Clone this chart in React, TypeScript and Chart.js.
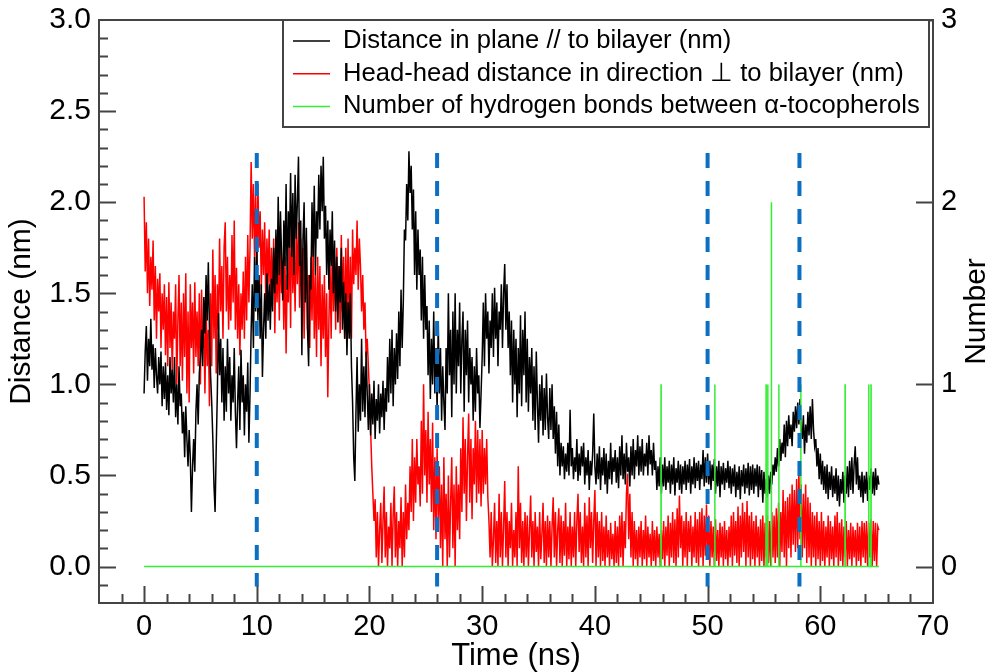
import { useEffect, useRef } from "react";
import { Chart, registerables } from "chart.js";

Chart.register(...registerables);

// ---- data ----
const TIME_STEP_NS = 0.1; // sampling interval of the two distance series

const inPlaneDistance = [
  0.95, 1.18, 1.32, 1.02, 1.25, 1.10, 1.36, 1.08, 1.22, 0.98, 1.20, 1.05, 0.95, 1.15, 1.00, 1.18, 0.88, 1.10, 0.92, 1.12,
  0.86, 1.05, 0.83, 1.15, 0.95, 1.08, 0.90, 1.15, 0.82, 1.00, 0.78, 1.10, 0.88, 0.95, 0.73, 0.85, 0.60, 0.88, 0.70, 0.55,
  0.75, 0.60, 0.30, 0.55, 0.70, 0.52, 0.85, 1.00, 0.78, 1.06, 1.15, 1.30, 1.10, 1.48, 1.28, 1.60, 1.35, 1.67, 1.30, 1.05,
  0.90, 0.70, 0.45, 0.30, 0.65, 0.95, 1.39, 1.05, 1.25, 0.90, 1.20, 0.80, 1.10, 0.85, 1.25, 0.95, 1.15, 0.80, 1.05, 0.90,
  1.20, 0.85, 0.65, 0.90, 1.10, 0.75, 1.19, 0.90, 1.05, 0.72, 1.00, 0.85, 1.12, 0.68, 0.95, 1.30, 1.55, 1.20, 1.70, 1.40,
  1.77, 1.35, 1.60, 1.25, 1.55, 1.04, 1.30, 1.50, 1.25, 1.61, 1.35, 1.55, 1.30, 1.58, 1.40, 1.75, 1.50, 1.85, 1.55, 2.03,
  1.60, 1.95, 1.70, 1.46, 1.90, 1.65, 2.10, 1.52, 1.95, 1.75, 2.16, 1.70, 2.05, 1.60, 2.15, 1.80, 2.00, 2.25, 1.65, 1.90,
  1.16, 1.80, 2.00, 1.45, 1.86, 1.30, 1.10, 1.60, 1.52, 2.00, 1.70, 2.09, 1.60, 1.95, 1.80, 2.15, 1.85, 2.20, 1.95, 2.25,
  1.80, 1.98, 1.60, 1.90, 1.52, 1.85, 1.65, 1.95, 1.50, 1.79, 1.40, 1.70, 1.34, 1.65, 1.45, 1.75, 1.30, 1.56, 1.25, 1.50,
  1.16, 1.45, 1.25, 1.50, 1.10, 0.90, 0.60, 0.47, 0.85, 1.15, 0.74, 1.00, 0.80, 1.25, 0.85, 1.10, 0.82, 1.18, 0.95, 0.75,
  1.00, 0.72, 0.95, 0.78, 1.02, 0.70, 0.92, 0.80, 1.00, 0.73, 0.95, 0.82, 1.02, 0.75, 0.98, 0.85, 1.15, 0.90, 1.25, 0.95,
  1.30, 0.88, 1.20, 1.00, 1.28, 1.03, 1.40, 1.10, 1.52, 1.20, 1.45, 1.85, 1.79, 2.10, 1.90, 2.28, 2.05, 2.20, 1.85, 2.07,
  1.60, 1.95, 1.52, 1.85, 1.60, 1.74, 1.35, 1.70, 1.25, 1.60, 1.30, 1.43, 1.05, 1.35, 0.92, 1.25, 1.00, 1.40, 0.95, 1.20,
  0.85, 1.34, 0.95, 1.20, 0.80, 1.10, 0.90, 0.75, 1.20, 0.95, 1.50, 1.05, 1.30, 0.82, 1.40, 1.00, 1.50, 0.95, 1.30, 1.10,
  1.45, 0.95, 1.25, 1.40, 0.85, 1.30, 1.05, 1.35, 0.90, 1.20, 1.00, 1.15, 0.80, 1.10, 0.85, 1.20, 0.95, 1.05, 0.76, 0.95,
  1.15, 1.45, 1.10, 1.50, 1.25, 1.40, 1.06, 1.35, 1.20, 1.50, 1.15, 1.53, 1.25, 1.45, 1.10, 1.40, 1.30, 1.55, 1.20, 1.50,
  1.66, 1.30, 1.55, 1.20, 1.40, 1.05, 1.35, 0.90, 1.30, 1.00, 1.25, 0.82, 1.20, 0.95, 1.38, 0.88, 1.30, 1.05, 1.40, 0.90,
  1.25, 0.85, 1.15, 0.95, 1.20, 0.80, 1.10, 0.75, 1.18, 0.90, 0.68, 1.00, 0.80, 1.05, 0.72, 0.98, 0.75, 1.06, 0.82, 0.70,
  0.98, 0.75, 1.00, 0.70, 0.88, 0.62, 0.85, 0.55, 0.78, 0.50, 0.68, 0.55, 0.66, 0.48, 0.62, 0.52, 0.68, 0.50, 0.86, 0.55,
  0.65, 0.48, 0.60, 0.52, 0.70, 0.47, 0.62, 0.50, 0.66, 0.55, 0.68, 0.45, 0.60, 0.50, 0.64, 0.42, 0.58, 0.50, 0.62, 0.84,
  0.55, 0.45, 0.62, 0.48, 0.66, 0.42, 0.60, 0.50, 0.65, 0.45, 0.62, 0.40, 0.58, 0.48, 0.68, 0.45, 0.60, 0.52, 0.64, 0.46,
  0.60, 0.43, 0.66, 0.50, 0.72, 0.48, 0.62, 0.45, 0.68, 0.52, 0.60, 0.44, 0.66, 0.50, 0.70, 0.48, 0.64, 0.55, 0.72, 0.50,
  0.66, 0.52, 0.70, 0.50, 0.62, 0.55, 0.68, 0.50, 0.72, 0.56, 0.64, 0.50, 0.68, 0.53, 0.58, 0.42, 0.55, 0.44, 0.60, 0.40,
  0.56, 0.44, 0.60, 0.42, 0.55, 0.46, 0.58, 0.40, 0.56, 0.45, 0.60, 0.39, 0.54, 0.46, 0.58, 0.42, 0.56, 0.40, 0.55, 0.45,
  0.58, 0.42, 0.56, 0.46, 0.59, 0.40, 0.55, 0.45, 0.60, 0.43, 0.57, 0.47, 0.58, 0.42, 0.56, 0.48, 0.64, 0.44, 0.60, 0.46,
  0.62, 0.45, 0.58, 0.42, 0.56, 0.47, 0.59, 0.40, 0.55, 0.44, 0.58, 0.38, 0.55, 0.45, 0.57, 0.42, 0.54, 0.46, 0.58, 0.43,
  0.55, 0.40, 0.54, 0.44, 0.56, 0.38, 0.52, 0.42, 0.55, 0.37, 0.53, 0.44, 0.56, 0.40, 0.54, 0.43, 0.57, 0.39, 0.55, 0.42,
  0.56, 0.40, 0.54, 0.44, 0.56, 0.38, 0.55, 0.42, 0.53, 0.35, 0.52, 0.40, 0.48, 0.38, 0.50, 0.40, 0.52, 0.45, 0.56, 0.50,
  0.60, 0.52, 0.65, 0.55, 0.70, 0.58, 0.68, 0.62, 0.78, 0.60, 0.80, 0.66, 0.83, 0.70, 0.78, 0.66, 0.85, 0.74, 0.88, 0.76,
  0.90, 0.78, 0.92, 0.75, 0.70, 0.83, 0.62, 0.78, 0.68, 0.85, 0.72, 0.88, 0.70, 0.92, 0.75, 0.66, 0.70, 0.55, 0.65, 0.48,
  0.62, 0.45, 0.58, 0.42, 0.55, 0.40, 0.56, 0.37, 0.52, 0.42, 0.55, 0.38, 0.50, 0.40, 0.54, 0.36, 0.50, 0.33, 0.48, 0.40,
  0.52, 0.35, 0.50, 0.40, 0.55, 0.38, 0.58, 0.42, 0.60, 0.40, 0.56, 0.66, 0.45, 0.60, 0.42, 0.50, 0.38, 0.52, 0.35, 0.50,
  0.40, 0.52, 0.36, 0.50, 0.42, 0.54, 0.40, 0.52, 0.39, 0.54, 0.42, 0.50, 0.45,
];

const headHeadDistance = [
  2.03, 1.62, 1.89, 1.50, 1.80, 1.43, 1.70, 1.52, 1.79, 1.35, 1.65, 1.25, 1.58, 1.40, 1.61, 1.20, 1.50, 1.30, 1.55, 1.16,
  1.48, 1.10, 1.56, 1.20, 1.45, 1.06, 1.40, 1.25, 1.55, 1.00, 1.35, 1.60, 1.10, 1.45, 1.02, 1.50, 1.15, 1.61, 0.95, 1.40,
  0.90, 1.55, 1.20, 1.45, 1.06, 1.56, 1.15, 1.40, 1.10, 1.50, 1.00, 1.52, 1.20, 1.35, 0.95, 1.45, 1.10, 1.30, 0.88, 1.50,
  1.10, 1.74, 1.25, 1.60, 1.06, 1.55, 1.30, 1.80, 1.40, 1.65, 1.25, 1.75, 1.89, 1.40, 1.70, 1.30, 1.60, 1.35, 1.82, 1.45,
  1.90, 1.30, 1.64, 1.25, 1.55, 1.16, 1.50, 1.30, 1.62, 1.25, 1.70, 1.35, 1.82, 1.45, 1.75, 2.22, 1.80, 2.10, 1.70, 2.05,
  1.60, 2.10, 1.75, 1.95, 1.52, 1.85, 1.60, 1.89, 1.45, 1.80, 1.55, 1.85, 1.43, 1.75, 1.50, 1.80, 1.28, 1.70, 1.45, 1.75,
  1.35, 1.80, 1.50, 1.65, 1.30, 1.70, 1.17, 1.60, 1.45, 1.85, 1.31, 1.98, 1.50, 1.75, 1.40, 1.85, 1.55, 1.89, 1.42, 1.80,
  1.40, 1.75, 1.25, 1.65, 1.79, 1.30, 1.60, 1.20, 1.70, 1.35, 1.76, 1.25, 1.60, 1.15, 1.70, 1.30, 1.65, 1.10, 1.55, 1.25,
  1.60, 1.15, 1.50, 0.93, 1.35, 1.65, 1.25, 1.79, 1.40, 1.70, 1.30, 1.75, 1.45, 1.65, 1.28, 1.82, 1.40, 1.70, 1.25, 1.75,
  1.35, 1.80, 1.30, 1.70, 1.25, 1.85, 1.55, 1.75, 1.60, 1.90, 1.52, 1.80, 1.65, 1.40, 1.60, 1.30, 1.45, 1.15, 1.25, 1.10,
  0.95, 0.75, 0.55, 0.40, 0.25, 0.37, 0.05, 0.30, 0.00, 0.20, 0.35, 0.02, 0.25, 0.44, 0.05, 0.30, 0.00, 0.22, 0.10, 0.35,
  0.00, 0.28, 0.44, 0.05, 0.30, 0.00, 0.25, 0.10, 0.38, 0.00, 0.30, 0.05, 0.45, 0.15, 0.35, 0.20, 0.55, 0.30, 0.70, 0.25,
  0.60, 0.35, 0.70, 0.45, 0.55, 0.33, 0.80, 0.40, 1.00, 0.50, 0.75, 0.35, 0.85, 0.45, 0.70, 0.30, 0.79, 0.20, 0.60, 0.15,
  0.65, 0.25, 0.55, 0.10, 0.45, 0.00, 0.60, 0.15, 0.40, 0.00, 0.50, 0.05, 0.35, 0.60, 0.10, 0.45, 0.00, 0.55, 0.20, 0.45,
  0.15, 0.65, 0.30, 0.82, 0.40, 0.70, 0.25, 0.60, 0.84, 0.35, 0.70, 0.26, 0.65, 0.45, 0.80, 0.35, 0.75, 0.40, 0.70, 0.33,
  0.75, 0.40, 0.65, 0.45, 0.70, 0.38, 0.25, 0.05, 0.30, 0.00, 0.15, 0.35, 0.02, 0.25, 0.00, 0.40, 0.05, 0.30, 0.00, 0.22,
  0.47, 0.05, 0.30, 0.00, 0.25, 0.10, 0.35, 0.00, 0.20, 0.05, 0.30, 0.00, 0.55, 0.10, 0.35, 0.02, 0.25, 0.00, 0.30, 0.05,
  0.28, 0.00, 0.20, 0.39, 0.05, 0.25, 0.00, 0.30, 0.08, 0.22, 0.00, 0.30, 0.04, 0.18, 0.35, 0.02, 0.25, 0.00, 0.28, 0.05,
  0.25, 0.00, 0.22, 0.38, 0.05, 0.30, 0.00, 0.20, 0.32, 0.02, 0.28, 0.00, 0.25, 0.06, 0.35, 0.00, 0.22, 0.04, 0.30, 0.00,
  0.22, 0.05, 0.30, 0.00, 0.25, 0.40, 0.08, 0.30, 0.02, 0.22, 0.00, 0.35, 0.05, 0.28, 0.00, 0.38, 0.10, 0.30, 0.02, 0.25,
  0.42, 0.00, 0.30, 0.05, 0.25, 0.00, 0.30, 0.03, 0.22, 0.00, 0.28, 0.05, 0.20, 0.00, 0.24, 0.04, 0.18, 0.00, 0.25, 0.02,
  0.22, 0.00, 0.28, 0.05, 0.30, 0.00, 0.25, 0.10, 0.40, 0.51, 0.15, 0.40, 0.05, 0.30, 0.00, 0.25, 0.04, 0.20, 0.00, 0.22,
  0.05, 0.25, 0.00, 0.20, 0.04, 0.28, 0.00, 0.22, 0.05, 0.18, 0.00, 0.25, 0.03, 0.20, 0.00, 0.22, 0.05, 0.18, 0.00, 0.20,
  0.04, 0.25, 0.00, 0.22, 0.06, 0.28, 0.00, 0.24, 0.05, 0.30, 0.02, 0.26, 0.00, 0.32, 0.05, 0.39, 0.10, 0.28, 0.00, 0.25,
  0.05, 0.30, 0.00, 0.25, 0.08, 0.28, 0.00, 0.22, 0.05, 0.30, 0.02, 0.26, 0.00, 0.30, 0.05, 0.32, 0.00, 0.28, 0.06, 0.34,
  0.04, 0.28, 0.00, 0.25, 0.05, 0.22, 0.00, 0.26, 0.03, 0.20, 0.00, 0.24, 0.05, 0.22, 0.00, 0.25, 0.04, 0.20, 0.00, 0.22,
  0.05, 0.28, 0.00, 0.30, 0.06, 0.25, 0.02, 0.33, 0.00, 0.28, 0.05, 0.35, 0.08, 0.30, 0.00, 0.36, 0.05, 0.28, 0.00, 0.30,
  0.04, 0.25, 0.00, 0.28, 0.05, 0.22, 0.00, 0.26, 0.03, 0.28, 0.00, 0.24, 0.05, 0.28, 0.02, 0.25, 0.00, 0.30, 0.05, 0.28,
  0.02, 0.32, 0.05, 0.35, 0.00, 0.30, 0.08, 0.42, 0.05, 0.36, 0.00, 0.38, 0.10, 0.40, 0.05, 0.45, 0.12, 0.42, 0.08, 0.48,
  0.10, 0.52, 0.15, 0.45, 0.05, 0.40, 0.10, 0.45, 0.02, 0.38, 0.05, 0.35, 0.00, 0.30, 0.05, 0.28, 0.00, 0.30, 0.04, 0.25,
  0.00, 0.30, 0.03, 0.25, 0.00, 0.22, 0.05, 0.28, 0.00, 0.25, 0.04, 0.22, 0.00, 0.28, 0.05, 0.30, 0.00, 0.24, 0.03, 0.26,
  0.00, 0.22, 0.05, 0.25, 0.00, 0.20, 0.04, 0.24, 0.00, 0.22, 0.05, 0.20, 0.00, 0.24, 0.03, 0.22, 0.00, 0.25, 0.05, 0.24,
  0.02, 0.25, 0.00, 0.24, 0.05, 0.26, 0.00, 0.25, 0.03, 0.24, 0.00, 0.22, 0.20,
];

// hydrogen-bond count: zero everywhere except these short events
const hbondStartNs = 0;
const hbondEndNs = 65.2;
const hbondEventTimes = [45.87, 50.64, 55.19, 55.34, 55.66, 56.32, 58.27, 62.2, 64.3, 64.5];
const hbondEventCounts = [1, 1, 1, 1, 2, 1, 1, 1, 1, 1];
const hbondEventWidthNs = 0.01;

// dashed vertical markers
const markerTimes = [10, 26, 50, 58.15];
const markerTop = 2.27;
const markerBottom = -0.11;

// tick labels
const xTickValues = [0, 10, 20, 30, 40, 50, 60, 70];
const yTickValues = [0, 0.5, 1, 1.5, 2, 2.5, 3];
const y2TickValues = [0, 1, 2, 3];

const seriesLabels = [
  "Distance in plane // to bilayer (nm)",
  "Head-head distance in direction \u22A5 to bilayer (nm)",
  "Number of hydrogen bonds between \u03B1-tocopherols",
];

// ---- styling ----
const FONT = '"Liberation Sans", Arial, Helvetica, sans-serif';
const AXIS_COLOR = "#444";
const BLACK = "#000000";
const RED = "#ff0000";
const GREEN = "#33ee33";
const BLUE = "#0b6fc4";

function buildSeries(values: number[]) {
  return values.map((v, i) => ({ x: +(i * TIME_STEP_NS).toFixed(2), y: v }));
}

function buildHbond() {
  const pts: { x: number; y: number }[] = [{ x: hbondStartNs, y: 0 }];
  hbondEventTimes.forEach((t, i) => {
    pts.push({ x: t - hbondEventWidthNs, y: 0 });
    pts.push({ x: t, y: hbondEventCounts[i] });
    pts.push({ x: t + hbondEventWidthNs, y: 0 });
  });
  pts.push({ x: hbondEndNs, y: 0 });
  return pts;
}

const framePlugin = {
  id: "framePlugin",
  afterDraw(chart: any) {
    const { ctx, chartArea: a, scales } = chart;
    const xs = scales.x;
    const ys = scales.y;
    const y2s = scales.y2;
    ctx.save();
    ctx.strokeStyle = AXIS_COLOR;
    ctx.lineWidth = 2;
    ctx.strokeRect(a.left, a.top, a.right - a.left, a.bottom - a.top);

    ctx.beginPath();
    // left axis: minor every 0.1, major every 0.5
    for (let k = -1; k <= 29; k++) {
      const py = Math.round(ys.getPixelForValue(k / 10)) + 0.5;
      const len = k % 5 === 0 ? 17 : 9;
      ctx.moveTo(a.left, py);
      ctx.lineTo(a.left + len, py);
    }
    // bottom axis: minor every 2, major every 10
    for (let k = -2; k <= 68; k += 2) {
      const px = Math.round(xs.getPixelForValue(k)) + 0.5;
      const len = k % 10 === 0 ? 17 : 9;
      ctx.moveTo(px, a.bottom);
      ctx.lineTo(px, a.bottom - len);
    }
    // right axis: major only
    y2TickValues.forEach((v) => {
      const py = Math.round(y2s.getPixelForValue(v)) + 0.5;
      ctx.moveTo(a.right, py);
      ctx.lineTo(a.right - 17, py);
    });
    ctx.stroke();

    // legend box
    const boxRight = a.right - 4;
    const boxLeft = boxRight - 646;
    const boxTop = a.top;
    const boxH = 107;
    ctx.fillStyle = "#ffffff";
    ctx.fillRect(boxLeft, boxTop, boxRight - boxLeft, boxH);
    ctx.strokeStyle = AXIS_COLOR;
    ctx.lineWidth = 2;
    ctx.strokeRect(boxLeft, boxTop, boxRight - boxLeft, boxH);
    const legendItems = chart.data.datasets.filter((d: any) => seriesLabels.includes(d.label));
    legendItems.sort((p: any, q: any) => seriesLabels.indexOf(p.label) - seriesLabels.indexOf(q.label));
    ctx.font = `25.6px ${FONT}`;
    ctx.textBaseline = "middle";
    ctx.textAlign = "left";
    legendItems.forEach((d: any, i: number) => {
      const cy = boxTop + 21 + i * 32.7;
      ctx.strokeStyle = d.borderColor;
      ctx.lineWidth = 1.5;
      ctx.beginPath();
      ctx.moveTo(boxLeft + 10, cy);
      ctx.lineTo(boxLeft + 47, cy);
      ctx.stroke();
      ctx.fillStyle = "#000";
      ctx.fillText(d.label, boxLeft + 60, cy);
    });

    // right axis title, reading bottom-to-top
    ctx.translate(977, (a.top + a.bottom) / 2);
    ctx.rotate(-Math.PI / 2);
    ctx.textAlign = "center";
    ctx.textBaseline = "middle";
    ctx.font = `30px ${FONT}`;
    ctx.fillStyle = "#000";
    ctx.fillText("Number", 0, 0);
    ctx.restore();
  },
};

function zeroPadding(s: any) {
  s.paddingTop = 0;
  s.paddingBottom = 0;
  s.paddingLeft = 0;
  s.paddingRight = 0;
}

export default function App() {
  const canvasRef = useRef<HTMLCanvasElement | null>(null);

  useEffect(() => {
    document.body.style.margin = "0";
    const canvas = canvasRef.current;
    if (!canvas) return;

    const markerSets = markerTimes.map((t) => ({
      label: "",
      data: [
        { x: t, y: markerTop },
        { x: t, y: markerBottom },
      ],
      borderColor: BLUE,
      borderWidth: 4,
      borderDash: [15, 13],
      pointRadius: 0,
      order: 0,
      yAxisID: "y",
    }));

    const noGrid = { display: false, drawTicks: false, tickLength: 0 };

    const chart = new Chart(canvas, {
      type: "line",
      data: {
        datasets: [
          ...markerSets,
          {
            label: seriesLabels[2],
            data: buildHbond(),
            borderColor: GREEN,
            borderWidth: 1.5,
            pointRadius: 0,
            order: 1,
            yAxisID: "y2",
          },
          {
            label: seriesLabels[0],
            data: buildSeries(inPlaneDistance),
            borderColor: BLACK,
            borderWidth: 1.5,
            pointRadius: 0,
            order: 2,
            yAxisID: "y",
          },
          {
            label: seriesLabels[1],
            data: buildSeries(headHeadDistance),
            borderColor: RED,
            borderWidth: 1.5,
            pointRadius: 0,
            order: 3,
            yAxisID: "y",
          },
        ] as any,
      },
      options: {
        animation: false,
        responsive: false,
        devicePixelRatio: 1,
        events: [],
        layout: { padding: { top: 20, left: 0, right: 0, bottom: 0 } },
        elements: { line: { tension: 0 } },
        plugins: {
          legend: { display: false },
          tooltip: { enabled: false },
        },
        scales: {
          x: {
            type: "linear",
            position: "bottom",
            min: -4,
            max: 70,
            grid: noGrid,
            border: { display: false },
            afterBuildTicks: (s: any) => {
              s.ticks = xTickValues.map((v) => ({ value: v }));
            },
            afterFit: (s: any) => {
              s.height = 69;
              zeroPadding(s);
            },
            ticks: {
              autoSkip: false,
              maxRotation: 0,
              padding: 7,
              color: "#000",
              font: { family: FONT, size: 29 },
              callback: (v: any) => String(v),
            },
            title: {
              display: true,
              text: "Time (ns)",
              color: "#000",
              font: { family: FONT, size: 31, lineHeight: 1 },
              padding: { top: 0, bottom: 0 },
            },
          },
          y: {
            type: "linear",
            position: "left",
            min: -0.2,
            max: 3,
            grid: noGrid,
            border: { display: false },
            afterBuildTicks: (s: any) => {
              s.ticks = yTickValues.map((v) => ({ value: v }));
            },
            afterFit: (s: any) => {
              s.width = 99;
              zeroPadding(s);
            },
            ticks: {
              padding: 8,
              color: "#000",
              font: { family: FONT, size: 30 },
              callback: (v: any) => Number(v).toFixed(1),
            },
            title: {
              display: true,
              text: "Distance (nm)",
              color: "#000",
              font: { family: FONT, size: 30, lineHeight: 1 },
              padding: { top: 7, bottom: 0 },
            },
          },
          y2: {
            type: "linear",
            position: "right",
            min: -0.2,
            max: 3,
            grid: noGrid,
            border: { display: false },
            afterBuildTicks: (s: any) => {
              s.ticks = y2TickValues.map((v) => ({ value: v }));
            },
            afterFit: (s: any) => {
              s.width = 59;
              zeroPadding(s);
            },
            ticks: {
              padding: 8,
              color: "#000",
              font: { family: FONT, size: 29 },
              callback: (v: any) => String(v),
            },
          },
        },
      } as any,
      plugins: [framePlugin],
    });

    return () => chart.destroy();
  }, []);

  return (
    <div style={{ position: "fixed", left: 0, top: 0, width: 992, height: 672, background: "#fff" }}>
      <canvas ref={canvasRef} width={992} height={672} />
    </div>
  );
}
